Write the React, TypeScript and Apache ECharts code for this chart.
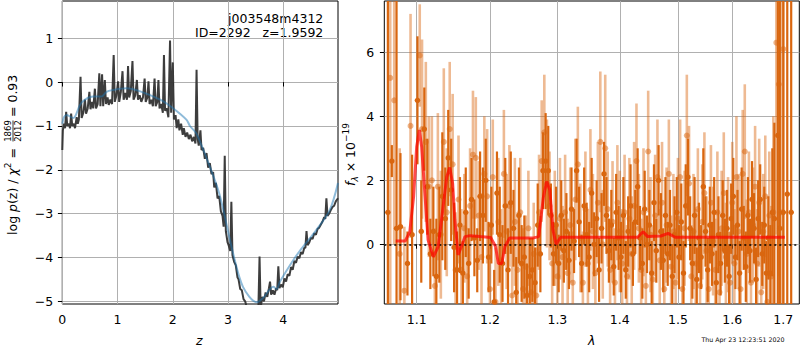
import React, { useEffect, useRef } from 'react';
import * as echarts from 'echarts';

// ---------- Left panel data ----------
const zTicks = [0, 1, 2, 3, 4];
const pzTicks = [-5, -4, -3, -2, -1, 0, 1];

// log p(z) (dark, spiky)
const pzRaw: [number, number][] = [
  [0.00,-1.55],[0.01,-1.10],[0.03,-0.95],[0.05,-1.05],[0.07,-0.68],[0.09,-1.00],[0.12,-0.95],[0.14,-1.05],[0.16,-0.72],[0.18,-1.00],
  [0.21,-0.95],[0.23,-1.05],[0.26,-0.80],[0.28,-0.95],[0.30,-0.85],[0.33,0.12],[0.35,-0.82],[0.38,-0.70],[0.41,-0.40],[0.43,-0.72],
  [0.46,-0.60],[0.49,-0.22],[0.51,-0.62],[0.54,-0.45],[0.56,-0.60],[0.59,-0.15],[0.61,-0.60],[0.64,-0.50],[0.67,0.20],[0.69,-0.55],
  [0.72,0.18],[0.74,-0.55],[0.77,0.05],[0.79,-0.50],[0.82,-0.35],[0.84,-0.52],[0.87,-0.40],[0.90,-0.50],[0.93,0.62],[0.95,-0.45],
  [0.98,-0.30],[1.01,0.02],[1.03,-0.45],[1.06,-0.22],[1.09,0.25],[1.11,-0.40],[1.14,-0.25],[1.17,-0.40],[1.19,0.37],[1.21,-0.35],
  [1.24,-0.20],[1.27,0.48],[1.29,-0.40],[1.32,-0.30],[1.35,0.05],[1.37,-0.40],[1.40,-0.30],[1.43,-0.45],[1.46,-0.35],[1.49,0.08],
  [1.51,-0.45],[1.54,-0.35],[1.56,0.02],[1.58,-0.50],[1.61,-0.40],[1.64,-0.55],[1.67,0.08],[1.69,-0.55],[1.72,-0.45],[1.74,0.05],
  [1.76,-0.60],[1.79,-0.50],[1.82,-0.70],[1.84,0.62],[1.86,-0.65],[1.89,-0.60],[1.92,-0.80],[1.95,0.95],[1.97,-0.70],[2.00,0.45],
  [2.02,-0.85],[2.05,-0.75],[2.07,-1.05],[2.10,-0.85],[2.12,-1.10],[2.15,-0.95],[2.18,-1.20],[2.20,-1.05],[2.23,-1.25],[2.26,-1.15],
  [2.29,-1.30],[2.32,-1.20],[2.35,-1.35],[2.38,-1.25],[2.41,-1.40],[2.43,0.28],[2.45,-1.30],[2.47,-1.45],[2.50,-1.10],[2.52,-1.55],
  [2.55,-1.50],[2.58,-1.75],[2.61,-1.62],[2.64,-1.95],[2.67,-1.85],[2.70,-2.10],[2.73,-2.05],[2.75,-2.40],[2.78,-2.30],[2.81,-2.65],
  [2.84,-2.60],[2.87,-2.95],[2.90,-3.05],[2.92,-3.30],[2.94,-1.68],[2.96,-3.40],[2.99,-3.65],[3.01,-3.72],[3.04,-3.85],[3.06,-2.73],
  [3.08,-3.95],[3.11,-4.10],[3.14,-4.18],[3.17,-4.45],[3.19,-4.50],[3.22,-4.72],[3.25,-4.75],[3.28,-4.95],[3.31,-5.00],[3.34,-5.15],
  [3.37,-5.10],[3.40,-5.25],[3.44,-5.20],[3.48,-5.30],[3.52,-5.25],[3.55,-5.10],[3.57,-3.98],[3.59,-5.15],[3.62,-4.90],[3.65,-5.00],
  [3.68,-4.80],[3.71,-4.90],[3.74,-4.70],[3.76,-4.55],[3.78,-4.85],[3.81,-4.75],[3.84,-4.85],[3.87,-4.70],[3.89,-4.75],[3.91,-4.20],
  [3.93,-4.70],[3.96,-4.62],[3.99,-4.68],[4.02,-4.48],[4.05,-4.55],[4.08,-4.38],[4.11,-4.42],[4.14,-4.22],[4.17,-4.28],[4.20,-4.08],
  [4.23,-4.12],[4.26,-3.98],[4.29,-4.02],[4.32,-3.88],[4.35,-3.92],[4.38,-3.78],[4.40,-3.78],[4.42,-3.40],[4.44,-3.72],[4.47,-3.66],
  [4.50,-3.55],[4.53,-3.58],[4.56,-3.45],[4.59,-3.48],[4.62,-3.35],[4.65,-3.32],[4.68,-3.25],[4.71,-3.18],[4.74,-3.08],[4.76,-3.12],
  [4.78,-2.65],[4.80,-3.05],[4.83,-3.00],[4.86,-2.92],[4.89,-2.85],[4.92,-2.82],[4.95,-2.72],[4.99,-2.65],
];

// smoothed log p(z) (light blue)
const pzSmooth: [number, number][] = [
  [0.00,-0.95],[0.03,-0.80],[0.08,-0.75],[0.20,-0.82],[0.32,-0.52],[0.41,-0.40],[0.56,-0.33],[0.71,-0.33],[0.80,-0.22],[0.92,-0.18],
  [1.16,-0.14],[1.41,-0.21],[1.77,-0.40],[2.01,-0.60],[2.25,-0.86],[2.31,-1.00],[2.43,-1.18],[2.67,-1.93],[2.85,-2.58],[3.09,-3.90],
  [3.27,-4.67],[3.52,-5.02],[3.63,-4.93],[3.82,-4.67],[3.88,-4.72],[3.94,-4.55],[4.15,-4.12],[4.30,-3.85],[4.60,-3.37],[4.84,-2.92],
  [4.99,-2.30],
];

// ---------- Right panel data ----------
const lamTicks = [1.1, 1.2, 1.3, 1.4, 1.5, 1.6, 1.7];
const fluxTicks = [0, 2, 4, 6];

// [lambda, flux, error]  darker spectrum
const specDark: [number, number, number][] = [
  [1.063,1.0,12],[1.068,2.6,0.5],[1.074,0.5,12],[1.079,0.55,2.3],[1.088,-0.6,1.0],[1.094,0.3,2.5],[1.101,4.5,2.0],[1.106,0.4,1.6],
  [1.110,3.6,1.3],[1.114,1.8,1.5],[1.118,-0.3,1.1],[1.122,0.4,1.4],[1.126,-1.0,1.8],[1.130,0.3,1.5],[1.134,1.5,2.0],[1.138,0.8,1.6],
  [1.142,2.7,1.5],[1.146,1.7,1.6],[1.150,-0.1,1.4],[1.154,-0.8,1.2],[1.158,0.6,1.5],[1.162,-0.9,1.0],[1.166,1.0,1.4],[1.170,-0.6,1.1],
  [1.174,1.4,1.3],[1.178,0.2,1.2],[1.182,-0.5,1.0],[1.186,1.5,1.4],[1.190,0.9,1.5],[1.194,2.0,1.3],[1.198,-0.4,1.1],[1.202,0.6,1.2],
  [1.206,-1.8,1.0],[1.210,1.6,1.3],[1.214,0.3,1.5],[1.218,-0.6,1.2],[1.222,1.2,1.5],[1.226,-0.8,1.3],[1.230,1.3,1.6],[1.234,0.5,1.2],
  [1.238,-1.5,1.1],[1.242,0.9,1.5],[1.246,-0.6,1.2],[1.250,-0.4,1.3],[1.254,-1.6,1.0],[1.258,-1.0,1.2],[1.262,-0.8,1.0],[1.266,-1.2,1.1],
  [1.270,0.6,1.3],[1.274,-0.3,1.2],[1.278,2.3,1.2],[1.282,2.6,1.5],[1.286,2.3,1.4],[1.290,0.9,1.0],[1.294,-0.3,1.0],[1.298,0.6,1.2],
  [1.302,-0.6,0.9],[1.306,0.9,1.1],[1.310,-0.2,1.0],[1.314,0.4,1.2],[1.318,-0.5,0.9],[1.322,1.1,1.3],[1.326,0.1,1.0],[1.330,2.3,1.0],
  [1.334,0.7,1.1],[1.338,-0.6,0.9],[1.342,1.2,1.2],[1.346,0.3,1.0],[1.350,-0.4,1.1],[1.354,1.6,1.1],[1.358,0.0,1.0],[1.362,0.8,1.2],
  [1.366,-0.8,1.0],[1.370,0.5,1.1],[1.374,2.2,1.0],[1.378,0.9,1.2],[1.382,-0.2,1.0],[1.386,0.6,1.1],[1.390,-0.7,0.9],[1.394,1.0,1.2],
  [1.398,0.2,1.0],[1.402,-0.4,1.1],[1.406,0.9,1.2],[1.410,-0.8,0.9],[1.414,0.4,1.1],[1.418,1.2,1.3],[1.422,-0.3,1.0],[1.426,0.7,1.0],
  [1.430,1.8,1.2],[1.434,0.2,1.0],[1.438,-0.6,1.1],[1.442,1.1,1.2],[1.446,0.0,0.9],[1.450,0.6,1.1],[1.454,-0.9,1.0],[1.458,1.3,1.2],
  [1.462,-0.2,1.0],[1.466,2.0,1.1],[1.470,0.4,1.2],[1.474,-0.5,1.0],[1.478,0.9,1.2],[1.482,-0.3,1.0],[1.486,0.6,1.1],[1.490,-1.0,1.0],
  [1.494,0.3,1.2],[1.498,1.0,1.1],[1.502,-0.4,1.0],[1.506,0.7,1.2],[1.510,-0.9,1.0],[1.514,1.2,1.3],[1.518,2.1,1.2],[1.522,0.5,1.0],
  [1.526,-0.6,1.1],[1.530,0.9,1.2],[1.534,-1.1,1.0],[1.538,0.2,1.1],[1.542,-0.4,1.0],[1.546,1.8,1.2],[1.550,0.4,1.1],[1.554,-0.8,1.0],
  [1.558,0.6,1.2],[1.562,-0.3,1.0],[1.566,1.0,1.1],[1.570,-1.2,1.0],[1.574,0.3,1.2],[1.578,-0.6,1.0],[1.582,0.9,1.1],[1.586,-0.2,1.0],
  [1.590,0.5,1.2],[1.594,-1.0,1.0],[1.598,0.8,1.1],[1.602,1.5,1.2],[1.606,-0.4,1.0],[1.610,0.6,1.1],[1.614,-0.9,1.0],[1.618,1.1,1.3],
  [1.622,0.2,1.0],[1.626,-0.7,1.1],[1.630,0.9,1.2],[1.634,-0.2,1.0],[1.638,1.4,1.2],[1.642,0.5,1.1],[1.646,-1.1,1.0],[1.650,0.8,1.2],
  [1.654,1.4,1.1],[1.658,-0.3,1.0],[1.662,0.6,1.2],[1.666,-0.9,1.0],[1.670,0.2,1.3],[1.674,-0.9,1.5],[1.678,1.0,2.0],[1.682,0.8,3.0],
  [1.689,3.4,12],[1.693,0.5,12],[1.700,1.0,12],[1.708,1.57,12],[1.716,1.0,12],
];

// [lambda, flux, error]  lighter spectrum
const specLight: [number, number, number][] = [
  [1.066,5.2,8],[1.071,4.5,4.5],[1.078,-0.3,3.3],[1.084,-1.45,2.0],[1.092,3.7,3.5],[1.104,5.9,1.6],[1.107,3.6,2.8],[1.112,3.2,2.5],
  [1.116,1.8,2.2],[1.120,2.0,2.0],[1.124,-1.3,1.8],[1.128,1.8,2.3],[1.132,0.3,2.0],[1.136,3.2,2.3],[1.140,1.0,2.0],[1.144,3.6,2.1],
  [1.148,2.5,2.2],[1.152,-0.8,1.8],[1.156,1.4,2.0],[1.160,-0.8,1.9],[1.164,0.5,1.7],[1.168,-1.0,2.0],[1.172,1.2,1.8],[1.176,2.8,2.0],
  [1.180,2.7,1.9],[1.184,0.9,1.7],[1.188,-0.4,2.0],[1.192,2.2,1.8],[1.196,1.5,2.1],[1.200,-1.4,2.0],[1.204,2.1,1.8],[1.208,-1.8,1.7],
  [1.212,0.7,2.0],[1.216,-0.5,1.6],[1.220,2.2,2.0],[1.224,0.4,1.8],[1.228,1.2,1.9],[1.232,-1.6,1.7],[1.236,0.7,2.0],[1.240,-0.8,1.8],
  [1.244,1.0,1.7],[1.248,-1.4,1.9],[1.252,-0.7,1.6],[1.256,0.5,1.8],[1.260,-1.5,1.7],[1.264,-0.3,1.6],[1.268,-1.6,1.5],[1.272,1.0,1.8],
  [1.276,2.6,1.9],[1.280,3.5,1.8],[1.284,1.9,2.0],[1.288,1.2,1.7],[1.292,-0.6,1.6],[1.296,0.5,1.8],[1.300,-1.0,1.7],[1.304,0.8,1.9],
  [1.308,-0.4,1.6],[1.312,1.0,1.8],[1.316,-0.9,1.7],[1.320,0.6,1.8],[1.324,-1.2,1.6],[1.328,1.4,1.9],[1.332,2.5,1.8],[1.336,0.2,1.7],
  [1.340,-1.2,1.6],[1.344,1.1,1.8],[1.348,-0.6,1.7],[1.352,1.7,1.9],[1.356,0.4,1.8],[1.360,-0.9,1.7],[1.364,1.3,1.9],[1.368,3.2,2.2],
  [1.372,0.0,1.7],[1.376,3.0,2.3],[1.380,1.1,1.8],[1.384,-0.8,1.6],[1.388,0.7,1.9],[1.392,-1.2,1.7],[1.396,1.3,1.8],[1.400,0.4,1.9],
  [1.404,-0.6,1.7],[1.408,1.0,1.8],[1.412,-1.0,1.6],[1.416,0.8,1.9],[1.420,-0.3,1.8],[1.424,1.2,2.0],[1.428,2.6,1.8],[1.432,0.5,1.7],
  [1.436,-0.8,1.6],[1.440,1.0,2.0],[1.444,-1.3,1.7],[1.448,2.9,1.9],[1.452,0.3,1.8],[1.456,-1.1,1.7],[1.460,0.9,1.9],[1.464,2.1,1.8],
  [1.468,-0.5,1.6],[1.472,1.3,1.9],[1.476,-1.4,1.7],[1.480,0.6,1.8],[1.484,2.2,1.7],[1.488,-0.7,1.6],[1.492,0.4,1.8],[1.496,-1.2,1.7],
  [1.500,0.8,1.9],[1.504,2.1,1.8],[1.508,-1.4,1.7],[1.512,0.5,1.8],[1.516,3.4,1.9],[1.520,1.9,1.8],[1.524,-1.0,1.6],[1.528,0.4,1.8],
  [1.532,-0.6,1.7],[1.536,1.1,1.9],[1.540,-1.3,1.6],[1.544,0.7,1.8],[1.548,1.6,1.9],[1.552,-0.2,1.7],[1.556,-1.4,1.6],[1.560,1.3,1.8],
  [1.564,0.1,1.7],[1.568,-0.8,1.6],[1.572,1.0,1.9],[1.576,-1.5,1.7],[1.580,0.5,1.8],[1.584,1.6,1.9],[1.588,-0.4,1.7],[1.592,0.3,1.8],
  [1.596,-1.2,1.6],[1.600,1.3,1.9],[1.604,-0.6,1.7],[1.608,2.1,1.9],[1.612,0.4,1.8],[1.616,-1.4,1.6],[1.620,2.2,2.0],[1.624,2.9,2.1],
  [1.628,-0.3,1.7],[1.632,1.0,1.9],[1.636,-1.2,1.6],[1.640,0.6,1.8],[1.644,1.8,1.9],[1.648,-0.6,1.7],[1.652,1.3,2.0],[1.656,-1.5,1.7],
  [1.660,0.4,1.8],[1.664,1.5,1.9],[1.668,-1.8,1.8],[1.672,0.9,2.0],[1.676,-1.0,2.2],[1.680,1.0,3.0],[1.686,6.3,6.0],[1.691,5.0,6.0],
  [1.695,1.0,8],[1.700,6.1,8],
];

// model spectrum (red)
const modelLine: [number, number][] = [
  [1.073,0.10],[1.085,0.10],[1.091,0.39],[1.096,1.49],[1.100,3.05],[1.1035,3.57],[1.1065,3.05],[1.111,1.49],[1.115,0.13],[1.122,-0.39],
  [1.1285,-0.07],[1.135,1.17],[1.140,2.11],[1.144,2.40],[1.148,1.90],[1.151,0.76],[1.1555,-0.33],[1.160,-0.07],[1.165,0.24],[1.172,0.27],
  [1.186,0.24],[1.201,0.21],[1.208,-0.07],[1.212,-0.60],[1.217,-0.60],[1.2215,-0.07],[1.2285,0.20],[1.264,0.20],[1.2715,0.24],[1.2787,1.49],
  [1.2836,1.96],[1.2884,1.70],[1.2932,0.45],[1.298,0.00],[1.305,0.22],[1.430,0.22],[1.4393,0.39],[1.447,0.24],[1.470,0.26],[1.4826,0.34],
  [1.495,0.22],[1.703,0.22],
];

// ---------- axis extents ----------
const Z_MIN = 0, Z_MAX = 4.99;
const PZ_MIN = -5.062, PZ_MAX = 1.851;
const LAM_MIN = 1.0585, LAM_MAX = 1.7326;
const F_MIN = -1.866, F_MAX = 7.603;

const FONT = 'DejaVu Sans';
const ORANGE = '#d9660f';
const lg = (v: number) => Math.log10(v);
const minusFmt = (v: number) => (v < 0 ? '\u2212' + Math.abs(v) : String(v));

function errSeries(data: [number, number, number][], color: string, opacity: number, width: number, z: number) {
  return {
    type: 'custom',
    xAxisIndex: 1,
    yAxisIndex: 1,
    silent: true,
    z,
    data: data.map((d) => [lg(d[0]), d[1], d[2]]),
    encode: { x: 0, y: 1 },
    renderItem: (_p: any, api: any) => {
      const x = api.value(0);
      const y = api.value(1);
      const e = api.value(2);
      const lo = Math.max(y - e, F_MIN);
      const hi = Math.min(y + e, F_MAX);
      if (lo >= hi) return null;
      const a = api.coord([x, lo]);
      const b = api.coord([x, hi]);
      return {
        type: 'line',
        shape: { x1: a[0], y1: a[1], x2: b[0], y2: b[1] },
        style: { stroke: color, lineWidth: width, opacity },
      };
    },
  };
}

const richBase = {
  n: { fontFamily: FONT, fontSize: 12.5, lineHeight: 18, color: '#000' },
  i: { fontFamily: FONT, fontStyle: 'italic', fontSize: 12.5, lineHeight: 18, color: '#000' },
  sup: { fontFamily: FONT, fontSize: 9, verticalAlign: 'top', color: '#000' },
  sub: { fontFamily: FONT, fontStyle: 'italic', fontSize: 9, verticalAlign: 'bottom', color: '#000' },
};

export default function App() {
  const ref = useRef<HTMLDivElement>(null);
  useEffect(() => {
    if (!ref.current) return;
    const chart = echarts.init(ref.current, undefined, { renderer: 'svg' });
    const labelStyle = { fontFamily: FONT, fontSize: 12.5, color: '#000' };
    const splitLine = { show: true, lineStyle: { color: '#b0b0b0', width: 1 } };
    const tick = { show: true, inside: false, length: 4.4, lineStyle: { color: '#000', width: 1 } };

    const option: any = {
      animation: false,
      backgroundColor: '#fff',
      grid: [
        { left: 62.3, top: 1, width: 275.7, height: 303, show: true, borderColor: '#000', borderWidth: 1, backgroundColor: 'transparent' },
        { left: 384.3, top: 1, width: 415, height: 303, show: true, borderColor: '#000', borderWidth: 1, backgroundColor: 'transparent' },
      ],
      xAxis: [
        {
          type: 'value', gridIndex: 0, min: Z_MIN, max: Z_MAX,
          axisLine: { show: false },
          axisTick: { ...tick, customValues: zTicks },
          axisLabel: { ...labelStyle, margin: 9, customValues: zTicks, formatter: (v: number) => String(v) },
          splitLine,
        },
        {
          type: 'value', gridIndex: 1, min: lg(LAM_MIN), max: lg(LAM_MAX),
          axisLine: { show: false },
          axisTick: { ...tick, customValues: lamTicks.map(lg) },
          axisLabel: { ...labelStyle, margin: 9, customValues: lamTicks.map(lg), formatter: (v: number) => Math.pow(10, v).toFixed(1) },
          splitLine,
        },
      ],
      yAxis: [
        {
          type: 'value', gridIndex: 0, min: PZ_MIN, max: PZ_MAX,
          axisLine: { show: false },
          axisTick: { ...tick, customValues: pzTicks },
          axisLabel: { ...labelStyle, margin: 9, customValues: pzTicks, formatter: minusFmt },
          splitLine,
        },
        {
          type: 'value', gridIndex: 1, min: F_MIN, max: F_MAX,
          axisLine: { show: false },
          axisTick: { ...tick, customValues: fluxTicks },
          axisLabel: { ...labelStyle, margin: 10, customValues: fluxTicks, formatter: minusFmt },
          splitLine,
        },
      ],
      series: [
        {
          type: 'line', xAxisIndex: 0, yAxisIndex: 0, data: pzRaw, showSymbol: false, symbol: 'none',
          lineStyle: { color: '#333333', width: 2, opacity: 0.95 }, clip: true, silent: true, z: 3,
        },
        {
          type: 'line', xAxisIndex: 0, yAxisIndex: 0, data: pzSmooth, showSymbol: false, symbol: 'none', smooth: 0.3,
          lineStyle: { color: '#1f77b4', width: 2, opacity: 0.5 }, clip: true, silent: true, z: 4,
        },
        errSeries(specLight, ORANGE, 0.45, 2.6, 2),
        {
          type: 'scatter', xAxisIndex: 1, yAxisIndex: 1, silent: true, z: 3,
          data: specLight.map((d) => [lg(d[0]), d[1]]), symbol: 'circle', symbolSize: 6,
          itemStyle: { color: ORANGE, opacity: 0.5 },
        },
        errSeries(specDark, ORANGE, 1, 2.2, 4),
        {
          type: 'scatter', xAxisIndex: 1, yAxisIndex: 1, silent: true, z: 5,
          data: specDark.map((d) => [lg(d[0]), d[1]]), symbol: 'circle', symbolSize: 5.5,
          itemStyle: { color: ORANGE, opacity: 1 },
        },
        {
          type: 'line', xAxisIndex: 1, yAxisIndex: 1, data: modelLine.map((d) => [lg(d[0]), d[1]]),
          showSymbol: false, symbol: 'none', silent: true, z: 6,
          lineStyle: { color: '#ff0000', width: 3, opacity: 0.7 },
          markLine: {
            silent: true, symbol: 'none', label: { show: false },
            lineStyle: { color: '#000', type: [2, 3], width: 1.6, opacity: 1 },
            data: [{ yAxis: 0 }],
          },
        },
      ],
      graphic: [
        { type: 'text', x: 323.3, y: 18.5, style: { text: 'j003548m4312', fontFamily: FONT, fontSize: 12.5, fill: '#000', align: 'right', verticalAlign: 'middle' } },
        { type: 'text', x: 323.3, y: 32.5, style: { text: 'ID=2292   z=1.9592', fontFamily: FONT, fontSize: 12.5, fill: '#000', align: 'right', verticalAlign: 'middle' } },
        { type: 'text', x: 199.3, y: 340, style: { text: 'z', fontFamily: FONT, fontStyle: 'italic', fontSize: 12.5, fill: '#000', align: 'center', verticalAlign: 'middle' } },
        { type: 'text', x: 591.7, y: 340, style: { text: 'λ', fontFamily: FONT, fontStyle: 'italic', fontSize: 12.5, fill: '#000', align: 'center', verticalAlign: 'middle' } },
        { type: 'text', x: 743, y: 339.5, style: { text: 'Thu Apr 23 12:23:51 2020', fontFamily: FONT, fontSize: 6.3, fill: '#000', align: 'center', verticalAlign: 'middle' } },
        {
          type: 'group', x: 12.7, y: 240, rotation: Math.PI / 2,
          children: [
            { type: 'text', x: 96, y: 0, style: { text: '{n|log }{i|p}{n|(z) / }{i|χ}{sup|2}{n| = }', rich: richBase, align: 'right', verticalAlign: 'middle' } },
            { type: 'text', x: 109, y: -4.6, style: { text: '1869', fontFamily: FONT, fontSize: 8.5, fill: '#000', align: 'center', verticalAlign: 'middle' } },
            { type: 'line', shape: { x1: 98.5, y1: 0.3, x2: 119.5, y2: 0.3 }, style: { stroke: '#000', lineWidth: 0.8 } },
            { type: 'text', x: 109, y: 5.0, style: { text: '2012', fontFamily: FONT, fontSize: 8.5, fill: '#000', align: 'center', verticalAlign: 'middle' } },
            { type: 'text', x: 123, y: 0, style: { text: '= 0.93', fontFamily: FONT, fontSize: 12.5, fill: '#000', align: 'left', verticalAlign: 'middle' } },
          ],
        },
        {
          type: 'group', x: 350, y: 154.5, rotation: Math.PI / 2,
          children: [
            { type: 'text', x: 0, y: 0, style: { text: '{i|f}{sub|λ}{n| × 10}{sup|−19}', rich: richBase, align: 'center', verticalAlign: 'middle' } },
          ],
        },
      ],
    };
    chart.setOption(option);
    return () => chart.dispose();
  }, []);
  return <div ref={ref} style={{ position: 'fixed', left: 0, top: 0, width: 800, height: 350, background: '#fff' }} />;
}
